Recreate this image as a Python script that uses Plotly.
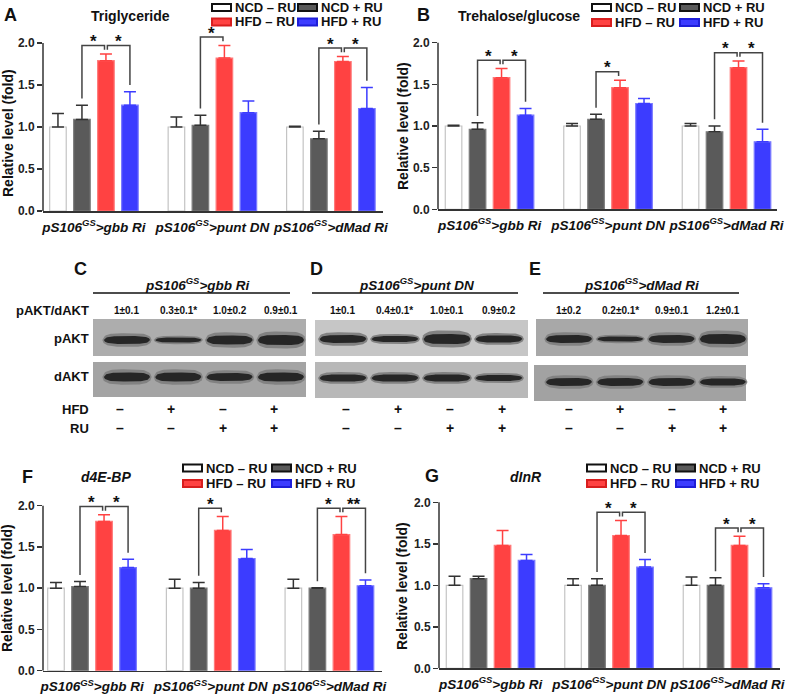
import numpy as np
import plotly.graph_objects as go

W, H = 787, 695
FONT = "Liberation Sans"


def fx(x):
    return x / W


def fy(y):
    return 1 - y / H


# ---------------- data ----------------
groups = [0, 1, 2]
group_labels = ["<b><i>pS106<sup>GS</sup>>gbb Ri</i></b>",
                "<b><i>pS106<sup>GS</sup>>punt DN</i></b>",
                "<b><i>pS106<sup>GS</sup>>dMad Ri</i></b>"]
series_names = ["NCD – RU", "NCD + RU", "HFD – RU", "HFD + RU"]
y_ticks = [0, 0.5, 1.0, 1.5, 2.0]
y_ticktext = ["0.0", "0.5", "1.0", "1.5", "2.0"]

# A: Triglyceride
tg_ncd_minus = [1.00, 1.00, 1.00]
tg_ncd_minus_err = [0.16, 0.12, 0.01]
tg_ncd_plus = [1.09, 1.02, 0.86]
tg_ncd_plus_err = [0.17, 0.12, 0.09]
tg_hfd_minus = [1.79, 1.82, 1.78]
tg_hfd_minus_err = [0.08, 0.15, 0.06]
tg_hfd_plus = [1.26, 1.17, 1.22]
tg_hfd_plus_err = [0.16, 0.14, 0.25]
tg_sig = [(0, "L", "*"), (0, "R", "*"), (1, "L", "*"), (2, "L", "*"), (2, "R", "*")]

# B: Trehalose/glucose
tr_ncd_minus = [1.00, 1.00, 1.00]
tr_ncd_minus_err = [0.01, 0.03, 0.03]
tr_ncd_plus = [0.96, 1.08, 0.93]
tr_ncd_plus_err = [0.08, 0.06, 0.07]
tr_hfd_minus = [1.58, 1.46, 1.70]
tr_hfd_minus_err = [0.11, 0.09, 0.08]
tr_hfd_plus = [1.13, 1.27, 0.81]
tr_hfd_plus_err = [0.08, 0.06, 0.15]
tr_sig = [(0, "L", "*"), (0, "R", "*"), (1, "L", "*"), (2, "L", "*"), (2, "R", "*")]

# F: d4E-BP
bp_ncd_minus = [1.00, 1.00, 1.00]
bp_ncd_minus_err = [0.07, 0.11, 0.11]
bp_ncd_plus = [1.02, 1.00, 1.00]
bp_ncd_plus_err = [0.06, 0.07, 0.005]
bp_hfd_minus = [1.81, 1.70, 1.65]
bp_hfd_minus_err = [0.08, 0.17, 0.22]
bp_hfd_plus = [1.25, 1.36, 1.03]
bp_hfd_plus_err = [0.10, 0.11, 0.07]
bp_sig = [(0, "L", "*"), (0, "R", "*"), (1, "L", "*"), (2, "L", "*"), (2, "R", "**")]

# G: dInR
ir_ncd_minus = [1.00, 1.00, 1.00]
ir_ncd_minus_err = [0.11, 0.08, 0.10]
ir_ncd_plus = [1.08, 1.00, 1.00]
ir_ncd_plus_err = [0.03, 0.08, 0.09]
ir_hfd_minus = [1.48, 1.60, 1.48]
ir_hfd_minus_err = [0.18, 0.18, 0.11]
ir_hfd_plus = [1.30, 1.22, 0.97]
ir_hfd_plus_err = [0.07, 0.09, 0.05]
ir_sig = [(1, "L", "*"), (1, "R", "*"), (2, "L", "*"), (2, "R", "*")]

# Western blots (C, D, E)
lanes = [0, 1, 2, 3]
hfd_signs = ["–", "+", "–", "+"]
ru_signs = ["–", "–", "+", "+"]
ratio_C = ["1±0.1", "0.3±0.1*", "1.0±0.2", "0.9±0.1"]
ratio_D = ["1±0.1", "0.4±0.1*", "1.0±0.1", "0.9±0.2"]
ratio_E = ["1±0.2", "0.2±0.1*", "0.9±0.1", "1.2±0.1"]
pakt_band_C = [8, 5, 9, 10]
dakt_band_C = [9, 9, 8, 9]
pakt_band_D = [8, 6, 10, 7]
dakt_band_D = [7, 7, 7, 6]
pakt_band_E = [8, 5, 8, 10]
dakt_band_E = [8, 8, 8, 7]

# ---------------- style ----------------
fills = ["#ffffff", "#5a5a5a", "#ff4242", "#3c3cff"]
edges = ["#c4c4c4", "#7c7c7c", "#ff7a7a", "#7a7aff"]
errc = ["#333333", "#333333", "#ff4242", "#3c3cff"]
leg_edges = ["#111111", "#111111", "#d81e1e", "#1e1ed8"]
BARGAP, GROUPGAP = 0.19, 0.31
SLOT = (1 - BARGAP) / 4

fig = go.Figure()
shapes = []
annots = []
layout_axes = {}


def xc(g, s):
    return g + (s - 1.5) * SLOT


def ptext(text, x, y, size, anchor="center", angle=0):
    annots.append(dict(x=fx(x), y=fy(y), xref="paper", yref="paper", text=text,
                       xanchor=anchor, yanchor="middle", textangle=angle, showarrow=False,
                       font=dict(size=size, family=FONT, color="#111")))


panels = [
    dict(n="", xdom=(43, 383), y0=211, y2=43, xr=(-0.43, 2.44),
         vals=[tg_ncd_minus, tg_ncd_plus, tg_hfd_minus, tg_hfd_plus],
         errs=[tg_ncd_minus_err, tg_ncd_plus_err, tg_hfd_minus_err, tg_hfd_plus_err],
         sig=tg_sig, ytitle=(8, 133), leg=(212, 298, 7.5, 22)),
    dict(n="2", xdom=(438, 777), y0=209.3, y2=42.7, xr=(-0.435, 2.426),
         vals=[tr_ncd_minus, tr_ncd_plus, tr_hfd_minus, tr_hfd_plus],
         errs=[tr_ncd_minus_err, tr_ncd_plus_err, tr_hfd_minus_err, tr_hfd_plus_err],
         sig=tr_sig, ytitle=(403, 126), leg=(592, 680, 7.5, 22.5)),
    dict(n="3", xdom=(43, 382), y0=670.7, y2=505.7, xr=(-0.413, 2.443),
         vals=[bp_ncd_minus, bp_ncd_plus, bp_hfd_minus, bp_hfd_plus],
         errs=[bp_ncd_minus_err, bp_ncd_plus_err, bp_hfd_minus_err, bp_hfd_plus_err],
         sig=bp_sig, ytitle=(7, 588), leg=(183, 272, 468, 483.5)),
    dict(n="4", xdom=(439, 780), y0=668.3, y2=502.3, xr=(-0.435, 2.443),
         vals=[ir_ncd_minus, ir_ncd_plus, ir_hfd_minus, ir_hfd_plus],
         errs=[ir_ncd_minus_err, ir_ncd_plus_err, ir_hfd_minus_err, ir_hfd_plus_err],
         sig=ir_sig, ytitle=(402, 586), leg=(587, 676, 468, 483.5)),
]

YMAX = 2.25
for p in panels:
    xa, ya = "x" + p["n"], "y" + p["n"]
    top_px = p["y0"] - YMAX * (p["y0"] - p["y2"]) / 2
    layout_axes["xaxis" + p["n"]] = dict(
        domain=[fx(p["xdom"][0]), fx(p["xdom"][1])], range=list(p["xr"]),
        tickvals=groups, ticktext=group_labels, showline=True, linecolor="#333",
        linewidth=1.5, ticks="", showgrid=False, zeroline=False, anchor=ya, tickangle=0,
        automargin=False,
        tickfont=dict(size=13.5, family=FONT, color="#111"), ticklabelstandoff=3)
    layout_axes["yaxis" + p["n"]] = dict(
        domain=[fy(p["y0"]), fy(top_px)], range=[0, YMAX], tickvals=y_ticks,
        ticktext=y_ticktext, ticks="outside", ticklen=5, tickwidth=1.5, tickcolor="#333",
        showline=False, showgrid=False, zeroline=False, anchor=xa, automargin=False,
        tickfont=dict(size=12, family=FONT, color="#222", weight="bold"))
    shapes.append(dict(type="line", xref=xa + " domain", yref=ya, x0=0, x1=0, y0=0, y1=2,
                       line=dict(color="#333", width=1.5)))
    for s in range(4):
        fig.add_trace(go.Bar(
            x=groups, y=p["vals"][s], xaxis=xa, yaxis=ya, name=series_names[s],
            marker=dict(color=fills[s], line=dict(color=edges[s], width=1.2)),
            error_y=dict(type="data", symmetric=False, array=p["errs"][s],
                         arrayminus=[0, 0, 0], color=errc[s], thickness=1.5, width=6),
            showlegend=False, hoverinfo="skip"))
    tops = [[v + e for v, e in zip(p["vals"][s], p["errs"][s])] for s in range(4)]
    for g, side, lab in p["sig"]:
        hh = tops[2][g] + 0.1
        if side == "L":
            xs = [xc(g, 1), xc(g, 1), xc(g, 2) - 0.012, xc(g, 2) - 0.012]
            ys = [tops[1][g] + 0.08, hh, hh, hh - 0.05]
        else:
            xs = [xc(g, 2) + 0.012, xc(g, 2) + 0.012, xc(g, 3), xc(g, 3)]
            ys = [hh - 0.05, hh, hh, tops[3][g] + 0.08]
        fig.add_trace(go.Scatter(x=xs, y=ys, xaxis=xa, yaxis=ya, mode="lines",
                                 line=dict(color="#444", width=1.5), showlegend=False,
                                 hoverinfo="skip"))
        annots.append(dict(x=(xs[1] + xs[2]) / 2, y=hh, xref=xa, yref=ya, text="<b>%s</b>" % lab,
                           showarrow=False, xanchor="center", yanchor="middle", yshift=4,
                           font=dict(size=17, family=FONT, color="#111")))
    ptext("<b>Relative level (fold)</b>", p["ytitle"][0], p["ytitle"][1], 14, angle=-90)
    # legend
    bx1, bx2, r1, r2 = p["leg"]
    for s, (bx, ry) in enumerate([(bx1, r1), (bx2, r1), (bx1, r2), (bx2, r2)]):
        shapes.append(dict(type="rect", xref="paper", yref="paper", x0=fx(bx), x1=fx(bx + 19),
                           y0=fy(ry + 3.5), y1=fy(ry - 3.5), fillcolor=fills[s],
                           line=dict(color=leg_edges[s], width=2)))
        ptext("<b>%s</b>" % series_names[s], bx + 21, ry, 13, anchor="left")

# panel letters and titles
for letter, x, y in [("A", 10, 15), ("B", 424, 15), ("C", 80, 269), ("D", 316, 269),
                     ("E", 535, 269), ("F", 27, 477), ("G", 432, 476)]:
    ptext("<b>%s</b>" % letter, x, y, 18)
for t, x, y in [("<b>Triglyceride</b>", 130, 16), ("<b>Trehalose/glucose</b>", 519, 16),
                ("<b><i>d4E-BP</i></b>", 106, 477), ("<b><i>dInR</i></b>", 526, 477)]:
    ptext(t, x, y, 14)

# ---------------- blots ----------------
blots = [
    dict(n="5", box=(93, 306), xr=(-0.662, 3.488), title=group_labels[0], tx=197, line=(93, 290),
         ratio=ratio_C, pakt=pakt_band_C, dakt=dakt_band_C, pbox=(319, 356), dbox=(362, 397),
         dshift=0, pc=340, dc=377, sshift=-7, bg=("#adadad", "#a4a4a4")),
    dict(n="6", box=(315, 528), xr=(-0.538, 3.558), title=group_labels[1], tx=416, line=(312, 518),
         ratio=ratio_D, pakt=pakt_band_D, dakt=dakt_band_D, pbox=(320, 356), dbox=(362, 398),
         dshift=0, pc=339, dc=378, sshift=3, bg=("#c6c6c6", "#b8b8b8")),
    dict(n="7", box=(536, 748), xr=(-0.643, 3.49), title=group_labels[2], tx=641, line=(543, 739),
         ratio=ratio_E, pakt=pakt_band_E, dakt=dakt_band_E, pbox=(319, 356), dbox=(365, 401),
         dshift=-2 / 212, pc=339, dc=382, sshift=0, bg=("#a8a8a8", "#a2a2a2")),
]
u = np.linspace(-1, 1, 41)
prof = np.sqrt(np.clip(1 - np.abs(u) ** 4, 0, 1))
for b in blots:
    xa, ya = "x" + b["n"], "y" + b["n"]
    layout_axes["xaxis" + b["n"]] = dict(domain=[fx(b["box"][0]), fx(b["box"][1])],
                                         range=list(b["xr"]), visible=False, anchor=ya)
    layout_axes["yaxis" + b["n"]] = dict(domain=[fy(405), fy(315)], range=[405, 315],
                                         visible=False, anchor=xa)
    shapes.append(dict(type="rect", xref=xa + " domain", yref=ya, x0=0, x1=1,
                       y0=b["pbox"][0], y1=b["pbox"][1], fillcolor=b["bg"][0],
                       line=dict(width=0), layer="below"))
    shapes.append(dict(type="rect", xref=xa + " domain", yref=ya, x0=b["dshift"], x1=1 + b["dshift"],
                       y0=b["dbox"][0], y1=b["dbox"][1], fillcolor=b["bg"][1],
                       line=dict(width=0), layer="below"))
    for center, thick in [(b["pc"], b["pakt"]), (b["dc"], b["dakt"])]:
        for ln, t in zip(lanes, thick):
            for scale, col, hw in [(1.7, "#828282", 0.48), (1.0, "#262626", 0.45)]:
                xs = ln + u * hw
                yt = center - t * scale / 2 * prof
                yb = center + t * scale / 2 * prof
                fig.add_trace(go.Scatter(
                    x=np.concatenate([xs, xs[::-1]]), y=np.concatenate([yt, yb[::-1]]),
                    xaxis=xa, yaxis=ya, mode="lines", fill="toself", fillcolor=col,
                    line=dict(width=0), showlegend=False, hoverinfo="skip"))
    ptext(b["title"], b["tx"], 284, 13.5)
    shapes.append(dict(type="line", xref="paper", yref="paper", x0=fx(b["line"][0]),
                       x1=fx(b["line"][1]), y0=fy(293), y1=fy(293),
                       line=dict(color="#111", width=1.5)))
    for ln, rt, hs, rs in zip(lanes, b["ratio"], hfd_signs, ru_signs):
        for txt, yy, sz, sh in [(rt, 310, 10, 0), (hs, 409, 14, b["sshift"]),
                                (rs, 428, 14, b["sshift"])]:
            annots.append(dict(x=ln, y=fy(yy), xref=xa, yref="paper", text="<b>%s</b>" % txt,
                               xanchor="center", yanchor="middle", xshift=sh, showarrow=False,
                               font=dict(size=sz, family=FONT, color="#111")))

for t, y in [("pAKT/dAKT", 310), ("pAKT", 338), ("dAKT", 376), ("HFD", 409), ("RU", 428)]:
    ptext("<b>%s</b>" % t, 91, y, 13, anchor="right")

fig.update_layout(
    width=W, height=H, margin=dict(l=0, r=0, t=0, b=0, pad=0, autoexpand=False),
    paper_bgcolor="white", plot_bgcolor="rgba(0,0,0,0)",
    barmode="group", bargap=BARGAP, bargroupgap=GROUPGAP,
    font=dict(family=FONT, color="#111"),
    shapes=shapes, annotations=annots, showlegend=False, **layout_axes)

fig.write_html("out.html", config={"displayModeBar": False, "staticPlot": True},
               post_script="document.body.style.margin='0px';")
